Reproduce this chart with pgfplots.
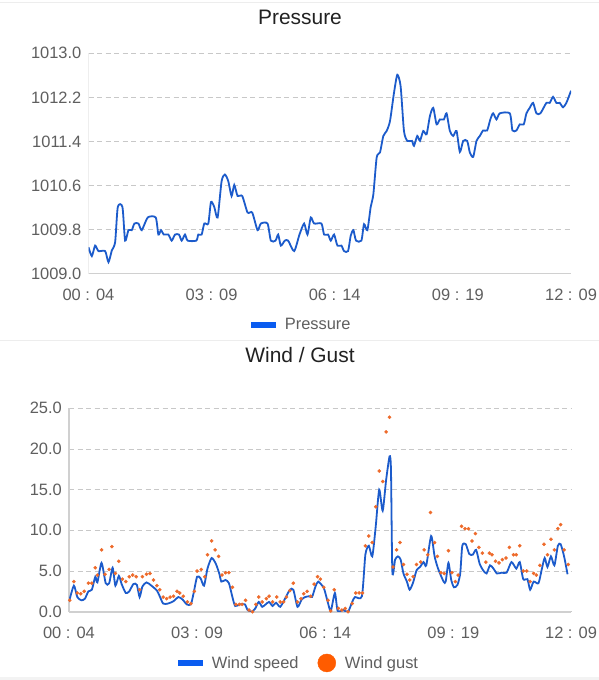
\documentclass[border=0pt]{standalone}
\usepackage{pgfplots}
\pgfplotsset{compat=1.18}
\usepackage{pgfplotstable}
\usepackage{fontspec}
\setmainfont{Liberation Sans}
\definecolor{lineblue}{HTML}{1C5BCB}
\definecolor{legblue}{HTML}{0A5CF0}
\definecolor{gustor}{HTML}{EE6A2A}
\definecolor{legor}{HTML}{FF5C00}
\definecolor{gridc}{HTML}{C8C8C8}
\definecolor{axisc}{HTML}{D0D0D0}
\definecolor{tickc}{HTML}{5F5F5F}
\definecolor{titlec}{HTML}{212121}
\definecolor{sepc}{HTML}{EDEDED}

\pgfplotstableread{
m p
0 1009.48
5 1009.32
10 1009.51
15 1009.41
25 1009.41
30 1009.21
35 1009.42
40 1009.57
44 1010.21
51 1010.21
55 1009.60
60 1009.79
65 1009.79
69 1009.91
75 1009.91
80 1009.79
89 1010.02
101 1010.02
105 1009.71
109 1009.79
113 1009.71
120 1009.71
125 1009.60
130 1009.71
136 1009.71
140 1009.60
145 1009.71
149 1009.60
162 1009.60
165 1009.71
170 1009.71
174 1009.91
180 1009.91
184 1010.30
189 1010.21
194 1010.02
200 1010.68
205 1010.80
210 1010.68
215 1010.41
219 1010.61
224 1010.41
231 1010.41
239 1010.11
246 1010.11
254 1009.79
259 1009.91
269 1009.91
274 1009.60
281 1009.60
285 1009.71
289 1009.51
295 1009.60
300 1009.60
309 1009.41
317 1009.71
324 1009.91
329 1009.71
334 1010.02
339 1009.91
350 1009.91
354 1009.71
360 1009.71
364 1009.60
369 1009.71
374 1009.51
380 1009.51
384 1009.41
390 1009.41
394 1009.69
398 1009.79
402 1009.60
410 1009.60
414 1009.90
419 1009.79
424 1010.21
428 1010.44
433 1011.11
438 1011.20
443 1011.50
448 1011.59
453 1011.77
459 1012.28
464 1012.61
469 1012.40
474 1011.59
479 1011.41
486 1011.41
489 1011.32
494 1011.50
498 1011.41
503 1011.59
508 1011.53
513 1011.86
518 1012.01
523 1011.71
528 1011.80
534 1011.80
538 1011.91
543 1011.59
548 1011.50
553 1011.59
558 1011.21
563 1011.41
569 1011.41
573 1011.20
578 1011.12
583 1011.41
588 1011.50
593 1011.60
599 1011.60
604 1011.81
608 1011.91
613 1011.80
618 1011.91
633 1011.91
637 1011.60
643 1011.60
648 1011.71
654 1011.71
658 1011.91
663 1012.01
668 1012.10
673 1011.91
679 1011.91
688 1012.10
693 1012.10
698 1012.21
703 1012.10
708 1012.10
713 1012.02
718 1012.10
725 1012.32
}\pressure

\pgfplotstableread{
m w
0 1.2
7 3.2
12 1.8
18 1.4
23 1.6
28 2.5
33 2.7
38 4.3
41 3.6
47 6.0
53 3.5
58 3.5
63 5.4
67 3.2
72 4.4
76 3.4
82 2.3
87 2.5
93 3.4
98 3.3
102 1.8
106 3.1
112 3.6
119 3.2
127 2.6
131 1.9
136 1.0
143 1.0
151 1.3
158 1.8
164 1.5
170 0.9
176 0.9
180 2.3
185 4.3
190 4.1
195 3.2
200 5.3
206 6.6
212 5.9
217 4.7
220 3.7
226 3.9
231 3.5
236 1.8
240 0.7
247 0.9
254 0.9
258 0.2
264 0.0
269 0.4
274 1.2
279 0.6
284 0.9
289 1.2
294 0.7
299 1.1
305 0.6
312 1.6
319 2.7
324 2.7
330 0.6
336 1.5
341 1.8
347 1.9
351 1.8
356 3.1
360 3.7
368 2.9
373 1.4
378 0.1
384 2.3
388 0.1
396 0.2
403 0.0
409 1.2
413 1.8
423 1.9
428 7.0
433 8.1
438 6.8
443 10.5
448 15.0
453 12.4
458 16.2
463 19.1
465 17.4
467 4.9
471 6.4
475 6.8
479 6.4
483 4.7
488 3.7
492 2.7
497 3.6
502 5.1
507 5.5
512 6.1
516 5.7
523 9.3
528 6.8
533 5.3
541 3.7
544 3.7
548 6.0
552 3.9
556 3.0
561 3.3
565 4.7
568 8.1
573 8.3
578 7.1
583 7.0
588 7.6
593 5.9
598 5.1
603 4.7
608 5.7
613 5.3
618 4.7
625 4.8
632 4.8
639 6.1
646 5.3
651 6.1
656 4.0
662 4.0
666 2.7
671 3.7
678 3.5
683 5.3
687 6.6
691 5.5
696 6.8
701 5.7
706 8.1
710 8.3
715 6.8
720 4.6
}\wind

\pgfplotstableread{
m g
1 1.4
7 3.7
12 2.3
17 2.2
22 2.5
28 3.5
33 3.5
38 5.4
41 4.5
47 7.6
52 4.6
58 5.2
62 8.0
67 4.7
72 6.2
77 4.0
82 3.7
87 4.3
92 4.5
97 4.3
102 2.7
106 4.3
112 4.6
117 4.7
122 3.9
127 3.2
131 2.7
136 1.8
141 1.6
146 1.8
151 1.9
156 2.5
160 2.3
165 1.9
171 1.2
176 1.0
181 2.5
185 5.0
191 5.2
196 4.3
200 7.0
206 8.7
211 7.6
216 6.8
221 4.5
226 4.8
231 4.8
236 3.0
241 0.9
246 0.9
250 0.9
255 1.4
260 0.2
265 0.0
270 0.9
274 1.8
279 1.2
285 1.6
289 1.9
294 1.2
300 1.8
305 1.2
310 1.2
314 1.8
319 2.6
324 3.5
330 1.2
335 1.6
339 2.2
344 2.5
349 1.9
354 3.4
359 4.3
363 4.0
368 3.0
374 1.4
378 0.1
383 2.7
389 0.4
394 0.2
399 0.4
403 0.0
409 1.0
414 2.3
419 2.3
424 2.3
428 8.1
433 9.3
438 8.5
443 12.9
448 17.3
453 16.0
458 22.1
463 23.9
468 5.5
473 7.6
478 8.5
483 5.8
488 4.6
492 3.9
497 4.3
502 5.8
508 6.1
513 7.6
518 7.0
522 12.2
528 8.5
532 6.8
537 4.8
542 4.7
548 7.5
553 4.8
558 3.7
562 4.5
567 10.5
572 10.2
577 10.2
582 8.7
587 9.6
592 7.9
597 7.2
602 6.1
607 7.2
611 7.0
616 6.2
621 6.0
626 6.4
631 6.6
636 7.9
642 7.0
646 7.0
651 8.1
656 5.0
661 5.0
666 3.7
671 4.7
675 4.5
680 5.7
686 8.3
691 7.0
696 8.9
701 7.6
706 10.2
710 10.7
715 7.6
721 5.8
}\gust

\newcommand{\tickfont}{\fontsize{16.5}{19}\selectfont}
\newcommand{\titlefont}{\fontsize{21}{25}\selectfont}

\pgfplotsset{
  chartstyle/.style={
    scale only axis,
    xmin=0, xmax=725,
    xtick={0,185,370,555,725},
    xticklabels={00 : 04,03 : 09,06 : 14,09 : 19,12 : 09},
    major tick length=0pt,
    tick style={draw=none},
    axis line style={draw=none},
    ymajorgrids,
    major grid style={gridc, line width=0.9bp, dash pattern=on 5bp off 3.5bp},
    xticklabel style={font=\tickfont, text=tickc, anchor=center, inner sep=0pt, yshift=-21.5bp},
    yticklabel style={font=\tickfont, text=tickc, anchor=east, inner sep=0pt, xshift=-7bp},
    legend cell align=left,
    legend style={draw=none, fill=none, inner sep=0pt, outer sep=0pt,
      font=\tickfont, text=tickc,
      nodes={inner sep=0pt},
      /tikz/every odd column/.append style={column sep=9bp},
      /tikz/every even column/.append style={column sep=19bp}},
  }
}

\begin{document}
\begin{tikzpicture}[x=1bp,y=1bp]
\path[use as bounding box] (0,0) rectangle (599,680);
\fill[white] (0,0) rectangle (599,680);
\fill[sepc!70] (0,0) rectangle (599,3);
\draw[sepc, line width=1bp] (0,677) -- (599,677);
\draw[sepc, line width=1bp] (0,339) -- (599,339);

\node[font=\titlefont, text=titlec] at (300,663) {Pressure};
\node[font=\titlefont, text=titlec] at (300,325) {Wind / Gust};

\begin{axis}[chartstyle,
  at={(88.5bp,406.3bp)}, anchor=south west,
  width=482.5bp, height=220.4bp,
  ymin=1009, ymax=1013,
  ytick={1009,1009.8,1010.6,1011.4,1012.2,1013},
  yticklabels={1009.0,1009.8,1010.6,1011.4,1012.2,1013.0},
  legend style={at={(0.3368,-0.233)}, anchor=west},
]
\draw[axisc, line width=1.2bp] (rel axis cs:0,0) -- (rel axis cs:0,1);
\draw[axisc, line width=2bp] (rel axis cs:0,0) -- (rel axis cs:1,0);
\addplot[lineblue, line width=1.8bp, smooth, tension=0.4, no markers,
  legend image code/.code={\fill[legblue] (0bp,-2.5bp) rectangle (23bp,2.5bp);}]
  table[x=m, y=p] {\pressure};
\addlegendentry{Pressure}
\end{axis}

\begin{axis}[chartstyle,
  at={(69bp,68.3bp)}, anchor=south west,
  width=502bp, height=203.4bp,
  ymin=0, ymax=25,
  ytick={0,5,10,15,20,25},
  yticklabels={0.0,5.0,10.0,15.0,20.0,25.0},
  clip mode=individual,
  legend columns=2,
  legend style={at={(0.2171,-0.252)}, anchor=west},
]
\draw[axisc, line width=1.2bp] (rel axis cs:0,0) -- (rel axis cs:0,1);
\draw[axisc, line width=2bp] (rel axis cs:0,0) -- (rel axis cs:1,0);
\addplot[lineblue, line width=1.8bp, smooth, tension=0.4, no markers,
  legend image code/.code={\fill[legblue] (0bp,-2.5bp) rectangle (23bp,2.5bp);}]
  table[x=m, y=w] {\wind};
\addlegendentry{Wind speed}
\addplot[only marks, mark=*, mark size=1.6bp, gustor, mark options={draw=gustor, fill=gustor},
  legend image code/.code={\fill[legor] (9bp,0bp) circle (9bp);}]
  table[x=m, y=g] {\gust};
\addlegendentry{Wind gust}
\end{axis}
\end{tikzpicture}
\end{document}
